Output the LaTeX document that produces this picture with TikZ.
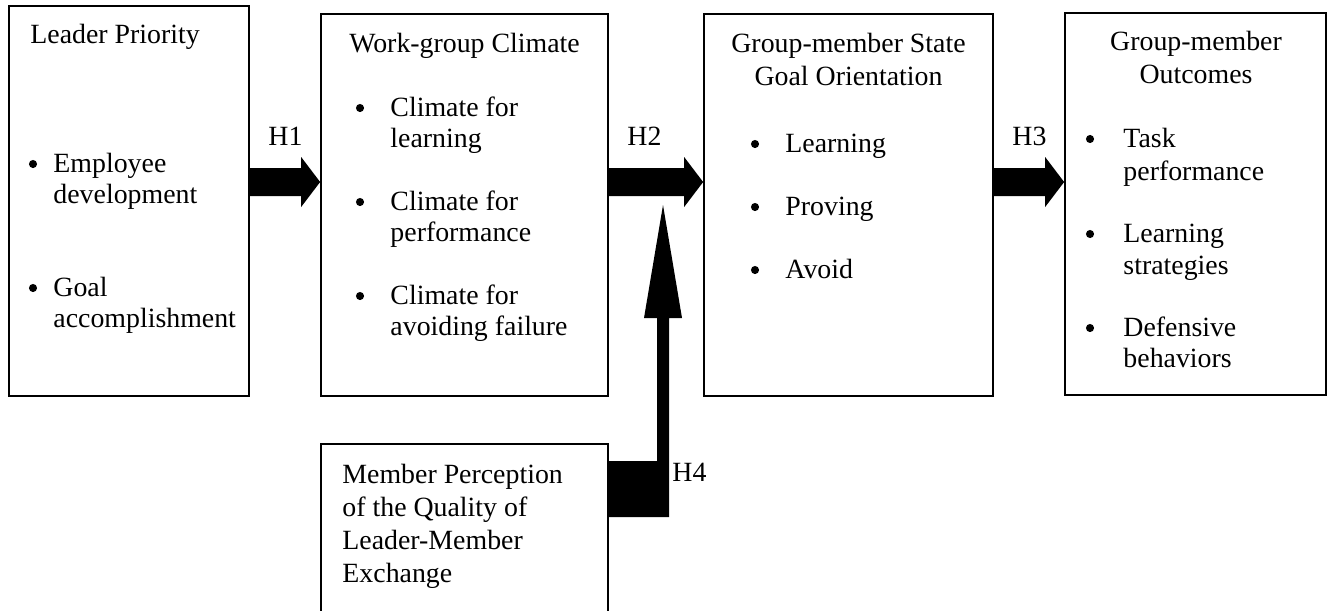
\documentclass[tikz,border=0pt]{standalone}
\usepackage{fontspec}
\setmainfont{Liberation Serif}
\usetikzlibrary{fit,calc}
\begin{document}
\begin{tikzpicture}[x=0.431pt,y=-0.431pt,
  box/.style={draw, line width=0.75pt, inner sep=0pt, rectangle},
  txt/.style={anchor=base west, inner sep=0pt, font=\fontsize{12}{14}\selectfont},
  ctxt/.style={anchor=base, inner sep=0pt, font=\fontsize{12}{14}\selectfont},
  bul/.style={circle, fill=black, draw=none, inner sep=0pt, minimum size=3.5pt},
  blk/.style={fill=black, draw=none}]
\useasboundingbox (0,0) rectangle (1336,610);
\clip (0,0) rectangle (1336,610);

% boxes
\node[box, fit={(9,6) (249,396)}] (lp) {};
\node[box, fit={(321,14) (608,396)}] (wc) {};
\node[box, fit={(704,14) (993,396)}] (gs) {};
\node[box, fit={(1065,13) (1326,395)}] (go) {};
\node[box, fit={(321,444) (608,640)}] (mp) {};

% Leader Priority
\node[txt] (lpt) at (30,43) {Leader Priority};
\node[bul] (lpb1) at (33,164) {};
\node[txt] (lp1a) at (53,172) {Employee};
\node[txt] (lp1b) at (53,203) {development};
\node[bul] (lpb2) at (33,288) {};
\node[txt] (lp2a) at (53,296) {Goal};
\node[txt] (lp2b) at (53,327) {accomplishment};

% Work-group Climate
\node[ctxt] (wct) at (464.5,52) {Work-group Climate};
\node[bul] (wcb1) at (360,108) {};
\node[txt] (wc1a) at (390,116) {Climate for};
\node[txt] (wc1b) at (390,147) {learning};
\node[bul] (wcb2) at (360,202) {};
\node[txt] (wc2a) at (390,210) {Climate for};
\node[txt] (wc2b) at (390,241) {performance};
\node[bul] (wcb3) at (360,296) {};
\node[txt] (wc3a) at (390,304) {Climate for};
\node[txt] (wc3b) at (390,335) {avoiding failure};

% Group-member State Goal Orientation
\node[ctxt] (gst1) at (848.5,52) {Group-member State};
\node[ctxt] (gst2) at (848.5,85) {Goal Orientation};
\node[bul] (gsb1) at (755,144) {};
\node[txt] (gs1) at (785,152) {Learning};
\node[bul] (gsb2) at (755,207) {};
\node[txt] (gs2) at (785,215) {Proving};
\node[bul] (gsb3) at (755,270) {};
\node[txt] (gs3) at (785,278) {Avoid};

% Group-member Outcomes
\node[ctxt] (got1) at (1196,50) {Group-member};
\node[ctxt] (got2) at (1196,83) {Outcomes};
\node[bul] (gob1) at (1090,139) {};
\node[txt] (go1a) at (1123,147) {Task};
\node[txt] (go1b) at (1123,180) {performance};
\node[bul] (gob2) at (1090,234) {};
\node[txt] (go2a) at (1123,242) {Learning};
\node[txt] (go2b) at (1123,274) {strategies};
\node[bul] (gob3) at (1090,328) {};
\node[txt] (go3a) at (1123,336) {Defensive};
\node[txt] (go3b) at (1123,367) {behaviors};

% Member Perception
\node[txt] (mp1) at (342,483) {Member Perception};
\node[txt] (mp2) at (342,516) {of the Quality of};
\node[txt] (mp3) at (342,549) {Leader-Member};
\node[txt] (mp4) at (342,582) {Exchange};

% hypothesis labels
\node[txt] (h1) at (268,145) {H1};
\node[txt] (h2) at (627,145) {H2};
\node[txt] (h3) at (1012,145) {H3};
\node[txt] (h4) at (672,481) {H4};

% block arrows
\newcommand\blkarrow[2]{%
  \fill[blk] ($(#1)+(0,-14)$) -- ($(#2)+(-19,-14)$) -- ($(#2)+(-19,-25)$) -- (#2)
    -- ($(#2)+(-19,25)$) -- ($(#2)+(-19,14)$) -- ($(#1)+(0,14)$) -- cycle;}
\coordinate (a1s) at (lp.east |- 0,182);
\coordinate (a1e) at (wc.west |- 0,182);
\coordinate (a2s) at (wc.east |- 0,182);
\coordinate (a2e) at (gs.west |- 0,182);
\coordinate (a3s) at (gs.east |- 0,182);
\coordinate (a3e) at (go.west |- 0,182);
\blkarrow{a1s}{a1e}
\blkarrow{a2s}{a2e}
\blkarrow{a3s}{a3e}

% H4 elbow arrow
\coordinate (h4tip) at (663,205);
\fill[blk] (mp.east |- 0,461) -- (657,461) -- (657,318) -- (644,318) -- (h4tip)
  -- (682,318) -- (669,318) -- (669,517) -- (mp.east |- 0,517) -- cycle;
\end{tikzpicture}
\end{document}
